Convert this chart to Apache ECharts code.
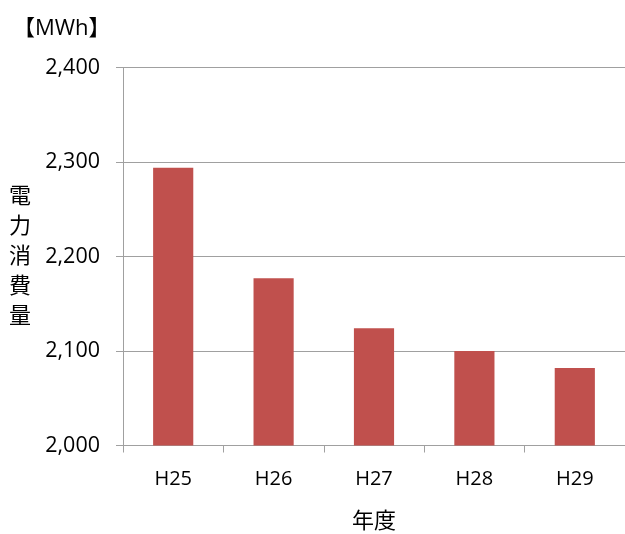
<!DOCTYPE html>
<html>
<head>
<meta charset="utf-8">
<script src="https://cdn.jsdelivr.net/npm/echarts@6/dist/echarts.min.js"></script>
<style>
html,body{margin:0;padding:0;background:#fff;overflow:hidden;}
#main{width:625px;height:534px;}
</style>
</head>
<body>
<div id="main"></div>
<script>
const categories = ['H25', 'H26', 'H27', 'H28', 'H29'];
const values = [2294, 2177, 2124, 2100, 2082];
const unitLabel = '【MWh】';
const yName = '電力消費量';
const xName = '年度';

const FONT = '"Open Sans", "Noto Sans CJK JP", sans-serif';
const chart = echarts.init(document.getElementById('main'));
chart.setOption({
  animation: false,
  textStyle: { fontFamily: FONT },
  graphic: [{
    type: 'text', left: 13, top: 18,
    style: { text: unitLabel, fontSize: 22, fill: '#000', fontFamily: FONT }
  }],
  grid: { left: 123, right: 0, top: 67.5, bottom: 88.5, containLabel: false, outerBoundsMode: 'none' },
  xAxis: {
    type: 'category',
    data: categories,
    name: xName,
    nameLocation: 'middle',
    nameGap: 65,
    nameTextStyle: { fontSize: 22, color: '#000', fontFamily: FONT },
    axisLine: { lineStyle: { color: '#a0a0a0', width: 1 } },
    axisTick: { show: true, length: 7, lineStyle: { color: '#a0a0a0' } },
    axisLabel: { fontSize: 20, color: '#000', margin: 24 }
  },
  yAxis: {
    type: 'value',
    min: 2000, max: 2400, interval: 100,
    name: yName.split('').join('\n'),
    nameLocation: 'middle',
    nameRotate: 0,
    nameGap: 92,
    nameTextStyle: { fontSize: 22, color: '#000', lineHeight: 30, fontFamily: FONT },
    axisLine: { show: true, lineStyle: { color: '#a0a0a0', width: 1 } },
    axisTick: { show: true, length: 7, lineStyle: { color: '#a0a0a0' } },
    axisLabel: {
      fontSize: 21.5, color: '#000', margin: 23,
      formatter: v => v.toLocaleString('en-US')
    },
    splitLine: { lineStyle: { color: '#a0a0a0', width: 1 } }
  },
  series: [{
    type: 'bar',
    data: values,
    barWidth: '40%',
    itemStyle: { color: '#C0504D' }
  }]
});
</script>
</body>
</html>
